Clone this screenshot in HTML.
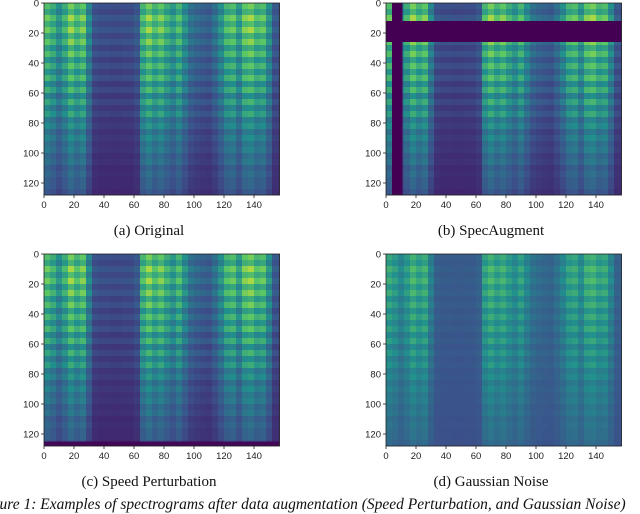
<!DOCTYPE html>
<html><head><meta charset="utf-8">
<style>
html,body{margin:0;padding:0;background:#fff;}
body{width:640px;height:512px;position:relative;overflow:hidden;font-family:"Liberation Serif",serif;}
.cap{position:absolute;font-size:15px;color:#111;white-space:nowrap;transform:translateX(-50%);}
#fig-caption{position:absolute;left:-22px;top:496px;font-size:15.5px;font-style:italic;white-space:nowrap;color:#111;}
svg{position:absolute;left:0;top:0;}
</style></head>
<body>
<svg id="chart" width="640" height="512"></svg>
<div class="cap" style="left:149px;top:223px">(a) Original</div>
<div class="cap" style="left:491px;top:223px">(b) SpecAugment</div>
<div class="cap" style="left:149px;top:474px">(c) Speed Perturbation</div>
<div class="cap" style="left:491px;top:474px">(d) Gaussian Noise</div>
<div id="fig-caption">Figure 1: Examples of spectrograms after data augmentation (Speed Perturbation, and Gaussian Noise)</div>
<script>
// energy per 4-frame time segment (frames 0..159)
const timeEnergy = [0.7,0.6,0.45,0.6,0.8,0.65,0.75,0.4,0.15,0.13,0.13,0.12,0.12,0.13,0.13,0.18,0.65,0.8,0.65,0.75,0.6,0.5,0.65,0.45,0.3,0.25,0.22,0.2,0.3,0.45,0.65,0.7,0.5,0.75,0.8,0.65,0.7,0.45,0.18,0.15];
// energy per 4-bin frequency band (bins 0..127, top to bottom)
const freqEnergy = [0.9,0.75,1.0,0.8,1.0,0.75,0.95,0.7,0.9,0.65,0.85,0.65,0.85,0.6,0.8,0.55,0.75,0.55,0.7,0.5,0.6,0.45,0.55,0.45,0.5,0.4,0.45,0.35,0.4,0.35,0.35,0.3];
const xTicks = [0,20,40,60,80,100,120,140];
const yTicks = [0,20,40,60,80,100,120];
const timeMask = [4,11];   // SpecAugment masked frames
const freqMask = [12,26];  // SpecAugment masked bins
const nFrames = 157, nBins = 128;

const NS = "http://www.w3.org/2000/svg";
const svg = document.getElementById('chart');
const stops = [[0,[68,1,84]],[0.25,[59,82,139]],[0.5,[33,144,141]],[0.75,[93,200,99]],[1,[253,231,37]]];
function viridis(v){
  v=Math.max(0,Math.min(1,v));
  for(let i=1;i<stops.length;i++){
    if(v<=stops[i][0]){
      const a=stops[i-1],b=stops[i],t=(v-a[0])/(b[0]-a[0]);
      const c=a[1].map((x,k)=>Math.round(x+(b[1][k]-x)*t));
      return `rgb(${c[0]},${c[1]},${c[2]})`;
    }
  }
  return 'rgb(253,231,37)';
}
const panels = [
  {name:'original', left:44, top:3, kind:'a'},
  {name:'specaugment', left:386, top:3, kind:'b'},
  {name:'speed-perturbation', left:44, top:254, kind:'c'},
  {name:'gaussian-noise', left:386, top:254, kind:'d'}
];
function mk(tag, attrs){const e=document.createElementNS(NS,tag);for(const k in attrs)e.setAttribute(k,attrs[k]);return e;}
panels.forEach(p=>{
  const xs = f => p.left + f*1.5;
  const ys = b => p.top + b*1.5;
  const g = mk('g',{});
  
  
  svg.appendChild(g);
  timeEnergy.forEach((te,ci)=>{
    freqEnergy.forEach((fe,ri)=>{
      const f0=ci*4, b0=ri*4;
      if(f0>=nFrames) return;
      const f1=Math.min(nFrames,f0+4);
      let v;
      if(p.kind==='d') v = 0.22 + te*fe*0.6;
      else v = 0.05 + 0.1*fe + te*fe*0.9;
      const r = mk('rect',{x:xs(f0),y:ys(b0),width:xs(f1)-xs(f0)+0.3,height:6.3,fill:viridis(v)});
      
      
      g.appendChild(r);
    });
  });
  if(p.kind==='c'){
    const r = mk('rect',{x:xs(0),y:ys(125),width:xs(nFrames)-xs(0),height:ys(128)-ys(125),fill:viridis(0.02)});
    
    
    g.appendChild(r);
  }
  if(p.kind==='b'){
    const t = mk('rect',{x:xs(timeMask[0]),y:ys(0),width:xs(timeMask[1])-xs(timeMask[0]),height:ys(nBins)-ys(0),fill:viridis(0)});
    
    
    g.appendChild(t);
    const fm = mk('rect',{x:xs(0),y:ys(freqMask[0]),width:xs(nFrames)-xs(0),height:ys(freqMask[1])-ys(freqMask[0]),fill:viridis(0)});
    
    
    g.appendChild(fm);
  }
  const frame = mk('rect',{x:xs(0),y:ys(0),width:xs(nFrames)-xs(0),height:ys(nBins)-ys(0),fill:'none',stroke:'#222','stroke-width':0.8});
  
  
  g.appendChild(frame);
  xTicks.forEach(t=>{
    const l = mk('line',{x1:xs(t),x2:xs(t),y1:ys(nBins),y2:ys(nBins)+3,stroke:'#222','stroke-width':0.8});
    
    
    g.appendChild(l);
    const tx = mk('text',{x:xs(t),y:ys(nBins)+13,'text-anchor':'middle','font-size':'9.5','font-family':'Liberation Sans, sans-serif',fill:'#222'});
    tx.textContent = t;
    
    
    g.appendChild(tx);
  });
  yTicks.forEach(t=>{
    const l = mk('line',{x1:xs(0)-3,x2:xs(0),y1:ys(t),y2:ys(t),stroke:'#222','stroke-width':0.8});
    
    
    g.appendChild(l);
    const tx = mk('text',{x:xs(0)-5,y:ys(t)+3.5,'text-anchor':'end','font-size':'9.5','font-family':'Liberation Sans, sans-serif',fill:'#222'});
    tx.textContent = t;
    
    
    g.appendChild(tx);
  });
});
</script>
</body></html>
